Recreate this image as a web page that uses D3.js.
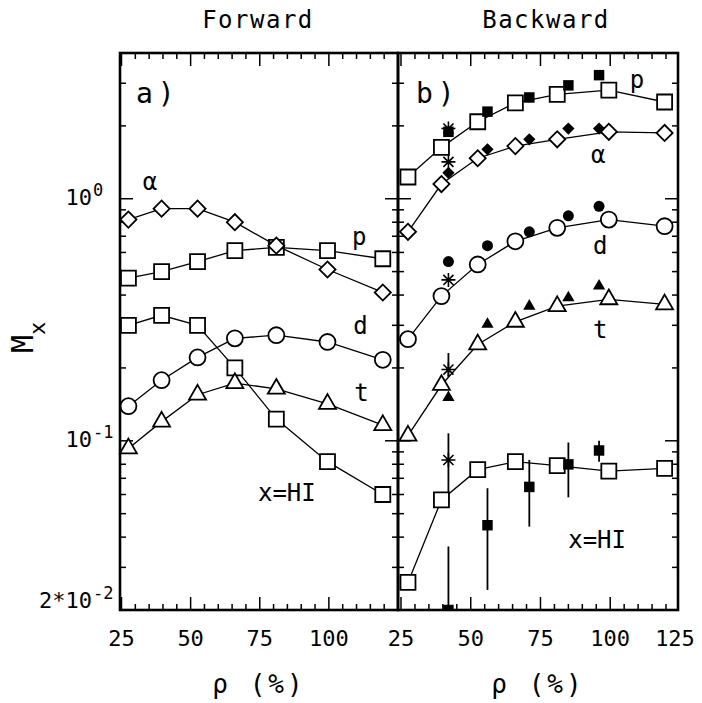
<!DOCTYPE html>
<html>
<head>
<meta charset="utf-8">
<script src="https://cdn.jsdelivr.net/npm/d3@7"></script>
<style>
  body { margin: 0; background: #fff; }
  text { font-family: "DejaVu Sans Mono", monospace; fill: #000; }
</style>
</head>
<body>
<div id="container"></div>
<script>
/* CONSTANTS AND GLOBALS */
const width = 702,
  height = 703

// rho (%) of the open symbols, same in both panels
const rho = [27.5, 39.5, 52.5, 66, 81, 99.5, 119.5]
// rho of the filled symbols (panel b only)
const rhoFilled = [42, 56, 71, 85, 96]

// panel a, forward
const fwdAlpha = [0.82, 0.91, 0.91, 0.80, 0.64, 0.51, 0.41]
const fwdP = [0.47, 0.50, 0.55, 0.61, 0.63, 0.61, 0.565]
const fwdD = [0.139, 0.178, 0.221, 0.265, 0.273, 0.256, 0.216]
const fwdT = [0.093, 0.12, 0.155, 0.173, 0.164, 0.142, 0.116]
const fwdHI = [0.30, 0.33, 0.30, 0.20, 0.123, 0.082, 0.060]

// panel b, backward
const bwdP = [1.23, 1.63, 2.08, 2.49, 2.70, 2.81, 2.51]
const bwdAlpha = [0.73, 1.15, 1.47, 1.65, 1.76, 1.89, 1.87]
const bwdD = [0.263, 0.396, 0.535, 0.667, 0.758, 0.82, 0.77]
const bwdT = [0.105, 0.17, 0.25, 0.31, 0.36, 0.384, 0.366]
const bwdHI = [0.026, 0.057, 0.076, 0.082, 0.079, 0.075, 0.077]

// filled symbols, panel b
const filledP = [1.89, 2.29, 2.62, 2.94, 3.24]
const filledAlpha = [1.28, 1.60, 1.76, 1.95, 1.95]
const filledD = [0.55, 0.64, 0.73, 0.85, 0.93]
const filledT = [0.151, 0.303, 0.36, 0.39, 0.436]
const filledHI = [0.02, 0.0448, 0.0645, 0.0799, 0.0912]
const filledHIlo = [0.02, 0.0242, 0.0442, 0.0584, 0.082]
const filledHIhi = [0.0366, 0.0637, 0.0834, 0.0984, 0.1]

// asterisks (p, alpha, d, t, HI) at one rho
const starRho = 42
const starVals = [1.95, 1.42, 0.462, 0.197, 0.0833]
const starLo = [null, null, null, 0.184, 0.0569]
const starHi = [null, null, null, 0.2305, 0.1074]

// tick labels
const xLabelsA = [25, 50, 75, 100]
const xLabelsB = [25, 50, 75, 100, 125]
const yLabels = [
  { v: 1, base: "10", exp: "0" },
  { v: 0.1, base: "10", exp: "-1" },
  { v: 0.02, base: "2*10", exp: "-2" }
]

// curve names, placed in data units
const namesA = [
  { t: "α", x: 35.3, y: 1.18 },
  { t: "p", x: 111, y: 0.70 },
  { t: "d", x: 111.4, y: 0.30 },
  { t: "t", x: 111.8, y: 0.158 },
  { t: "x=HI", x: 84.8, y: 0.061 }
]
const namesB = [
  { t: "p", x: 109.6, y: 3.1 },
  { t: "α", x: 95.7, y: 1.515 },
  { t: "d", x: 96.4, y: 0.64 },
  { t: "t", x: 96.4, y: 0.287 },
  { t: "x=HI", x: 95.3, y: 0.039 }
]

/* SCALES */
const yTop = 53, yBottom = 610
const y = d3.scaleLog().domain([0.02, 4]).range([yBottom, yTop])
const xA = d3.scaleLinear().domain([25, 125]).range([121.5, 398])
const xB = d3.scaleLinear().domain([25, 124.3]).range([401, 678])
const panelA = { x0: 120, x1: 398 }
const panelB = { x0: 398, x1: 678 }

const svg = d3.select("#container")
  .append("svg")
  .attr("width", width)
  .attr("height", height)
  .style("background", "#fff")

svg.append("clipPath").attr("id", "clipB")
  .append("rect")
  .attr("x", panelB.x0).attr("y", yTop)
  .attr("width", panelB.x1 - panelB.x0).attr("height", yBottom - yTop)

// ticks, all pointing inward
const majorX = [25, 50, 75, 100, 125]
const minorX = d3.range(30, 125, 5).filter(v => v % 25 !== 0)
const majorY = [0.1, 1]
const minorY = [0.03, 0.04, 0.05, 0.06, 0.07, 0.08, 0.09, 0.2, 0.3, 0.4, 0.5, 0.6, 0.7, 0.8, 0.9, 2, 3]

function drawTicks(x, panel) {
  const g = svg.append("g").attr("stroke", "#000").attr("stroke-width", 1.5)
  const inX = v => v >= x.domain()[0] && v <= x.domain()[1]
  const xt = majorX.filter(inX).map(v => ({ v, len: 13 }))
    .concat(minorX.filter(inX).map(v => ({ v, len: 6 })))
  xt.forEach(d => {
    g.append("line").attr("x1", x(d.v)).attr("x2", x(d.v)).attr("y1", yBottom).attr("y2", yBottom - d.len)
    g.append("line").attr("x1", x(d.v)).attr("x2", x(d.v)).attr("y1", yTop).attr("y2", yTop + d.len)
  })
  const yt = majorY.map(v => ({ v, len: 13 })).concat(minorY.map(v => ({ v, len: 6 })))
  yt.forEach(d => {
    g.append("line").attr("x1", panel.x0).attr("x2", panel.x0 + d.len).attr("y1", y(d.v)).attr("y2", y(d.v))
    g.append("line").attr("x1", panel.x1).attr("x2", panel.x1 - d.len).attr("y1", y(d.v)).attr("y2", y(d.v))
  })
}
drawTicks(xA, panelA)
drawTicks(xB, panelB)

/* SYMBOLS */
const sym = {
  square: d3.symbol(d3.symbolSquare, 225)(),
  diamond: d3.symbol(d3.symbolSquare, 130)(),
  circle: d3.symbol(d3.symbolCircle, 200)(),
  triangle: d3.symbol(d3.symbolTriangle, 125)(),
  fSquare: d3.symbol(d3.symbolSquare, 110)(),
  fDiamond: d3.symbol(d3.symbolSquare, 75)(),
  fCircle: d3.symbol(d3.symbolCircle, 95)(),
  fTriangle: d3.symbol(d3.symbolTriangle, 65)()
}
const rot = { diamond: 45, fDiamond: 45 }

function drawSeries(x, vals, shape, clip) {
  const pts = vals.map((v, i) => [x(rho[i]), y(v)])
  const g = svg.append("g")
  if (clip) g.attr("clip-path", "url(#clipB)")
  g.append("path")
    .attr("d", d3.line()(pts))
    .attr("fill", "none")
    .attr("stroke", "#000")
    .attr("stroke-width", 1.3)
  g.selectAll("path.m")
    .data(pts)
    .join("path")
    .attr("class", "m")
    .attr("d", sym[shape])
    .attr("transform", d => `translate(${d[0]},${d[1]}) rotate(${rot[shape] || 0})`)
    .attr("fill", "#fff")
    .attr("stroke", "#000")
    .attr("stroke-width", 1.8)
}

function drawFilled(vals, shape) {
  svg.append("g").attr("clip-path", "url(#clipB)")
    .selectAll("path")
    .data(vals)
    .join("path")
    .attr("d", sym[shape])
    .attr("transform", (d, i) => `translate(${xB(rhoFilled[i])},${y(d)}) rotate(${rot[shape] || 0})`)
    .attr("fill", "#000")
}

// panel a
drawSeries(xA, fwdHI, "square")
drawSeries(xA, fwdT, "triangle")
drawSeries(xA, fwdD, "circle")
drawSeries(xA, fwdP, "square")
drawSeries(xA, fwdAlpha, "diamond")

// panel b: error bars first, then open curves, then filled
const eb = svg.append("g").attr("clip-path", "url(#clipB)")
  .attr("stroke", "#000").attr("stroke-width", 1.8)
filledHI.forEach((v, i) => {
  eb.append("line")
    .attr("x1", xB(rhoFilled[i])).attr("x2", xB(rhoFilled[i]))
    .attr("y1", y(filledHIhi[i])).attr("y2", y(filledHIlo[i]))
})
starVals.forEach((v, i) => {
  if (starLo[i] == null) return
  eb.append("line")
    .attr("x1", xB(starRho)).attr("x2", xB(starRho))
    .attr("y1", y(starHi[i])).attr("y2", y(starLo[i]))
})

drawSeries(xB, bwdHI, "square", true)
drawSeries(xB, bwdT, "triangle", true)
drawSeries(xB, bwdD, "circle", true)
drawSeries(xB, bwdAlpha, "diamond", true)
drawSeries(xB, bwdP, "square", true)

drawFilled(filledHI, "fSquare")
drawFilled(filledT, "fTriangle")
drawFilled(filledD, "fCircle")
drawFilled(filledAlpha, "fDiamond")
drawFilled(filledP, "fSquare")

// asterisks
const r = 7, r2 = r * 0.72
const starPath = `M${-r},0L${r},0M0,${-r}L0,${r}M${-r2},${-r2}L${r2},${r2}M${-r2},${r2}L${r2},${-r2}`
svg.append("g")
  .selectAll("path")
  .data(starVals)
  .join("path")
  .attr("d", starPath)
  .attr("transform", d => `translate(${xB(starRho)},${y(d)})`)
  .attr("fill", "none")
  .attr("stroke", "#000")
  .attr("stroke-width", 1.6)

/* FRAMES */
;[panelA, panelB].forEach(p => {
  svg.append("rect")
    .attr("x", p.x0).attr("y", yTop)
    .attr("width", p.x1 - p.x0).attr("height", yBottom - yTop)
    .attr("fill", "none")
    .attr("stroke", "#000")
    .attr("stroke-width", 2.6)
})

/* TEXT */
function xLabels(x, list, panel) {
  svg.append("g")
    .selectAll("text")
    .data(list)
    .join("text")
    .attr("x", d => Math.min(x(d), panel.x1 - 3))
    .attr("y", 646)
    .attr("text-anchor", "middle")
    .attr("font-size", 22)
    .text(d => d)
  svg.append("text")
    .attr("x", (panel.x0 + panel.x1) / 2)
    .attr("y", 693)
    .attr("text-anchor", "middle")
    .attr("font-size", 26)
    .attr("letter-spacing", 3)
    .text("ρ (%)")
}
xLabels(xA, xLabelsA, panelA)
xLabels(xB, xLabelsB, panelB)

yLabels.forEach((d, i) => {
  const base = i === yLabels.length - 1 ? y(d.v) - 2 : y(d.v) + 6
  svg.append("text")
    .attr("x", 92).attr("y", base)
    .attr("text-anchor", "end")
    .attr("font-size", 22)
    .text(d.base)
  svg.append("text")
    .attr("x", 93).attr("y", base - 9)
    .attr("font-size", 17)
    .text(d.exp)
})

// y axis title M_x
const yt = svg.append("text")
  .attr("transform", "translate(33,353) rotate(-90)")
  .attr("font-size", 30)
yt.append("tspan").text("M")
yt.append("tspan").attr("dy", 12).attr("font-size", 22).text("x")

// column titles
svg.append("text").attr("x", 258).attr("y", 28)
  .attr("text-anchor", "middle").attr("font-size", 24).attr("letter-spacing", 1.5)
  .text("Forward")
svg.append("text").attr("x", 546).attr("y", 28)
  .attr("text-anchor", "middle").attr("font-size", 24).attr("letter-spacing", 1.5)
  .text("Backward")

// panel tags
svg.append("text").attr("x", 136).attr("y", 103).attr("font-size", 28).attr("letter-spacing", 5).text("a)")
svg.append("text").attr("x", 416).attr("y", 103).attr("font-size", 28).attr("letter-spacing", 5).text("b)")

// curve names
function names(x, list) {
  svg.append("g")
    .selectAll("text")
    .data(list)
    .join("text")
    .attr("x", d => x(d.x))
    .attr("y", d => y(d.y))
    .attr("dy", "0.35em")
    .attr("text-anchor", "middle")
    .attr("font-size", 24)
    .text(d => d.t)
}
names(xA, namesA)
names(xB, namesB)
</script>
</body>
</html>
